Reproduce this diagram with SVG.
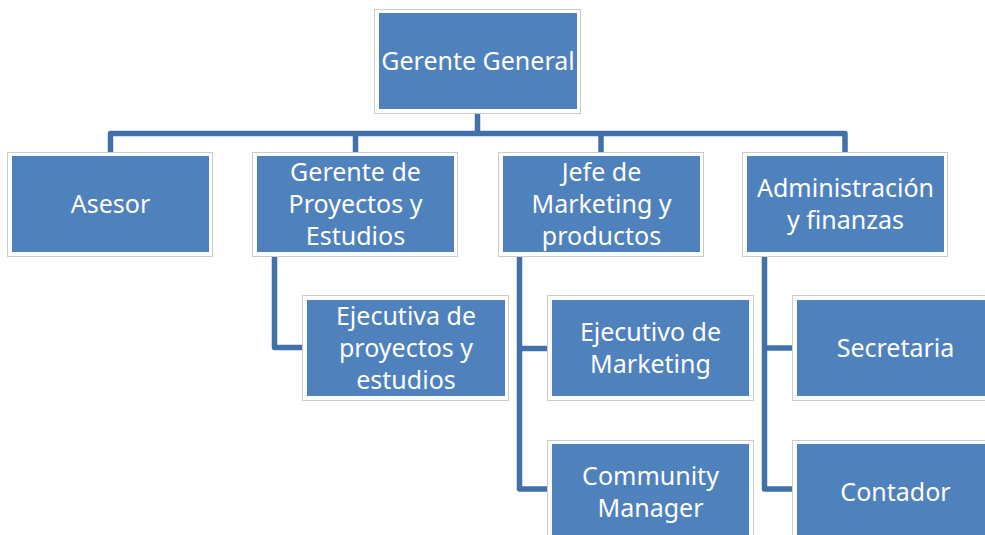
<svg xmlns="http://www.w3.org/2000/svg" width="985" height="535" viewBox="0 0 985 535">
<style>
.frame{fill:#FFFFFF;stroke:#CBCBCB;stroke-width:1}
.box{fill:#4F81BD}
.lbl{font-family:"Noto Sans","Open Sans",sans-serif;font-size:25px;fill:#FFFFFF;text-anchor:middle}
.conn{fill:none;stroke:#4270A8;stroke-width:5.5;stroke-linejoin:round;stroke-linecap:butt}
</style>
<rect width="985" height="535" fill="#FFFFFF"/>
<g id="connectors">
<path class="conn" d="M477.5,114 V133.5"/>
<path class="conn" d="M110.5,152 V133.5 H845 V152"/>
<path class="conn" d="M355.5,133.5 V152"/>
<path class="conn" d="M601,133.5 V152"/>
<path class="conn" d="M274.5,257 V347.5 H302"/>
<path class="conn" d="M519.5,257 V489 H547"/>
<path class="conn" d="M519.5,348.5 H547"/>
<path class="conn" d="M764.5,257 V489 H792"/>
<path class="conn" d="M764.5,348 H792"/>
</g>
<g id="gerente-general">
<rect class="frame" x="374.5" y="9.5" width="206" height="104"/>
<rect class="box" x="379" y="13" width="198" height="96"/>
<text class="lbl" x="478" y="70">Gerente General</text>
</g>
<g id="asesor">
<rect class="frame" x="7.5" y="152.5" width="205" height="104"/>
<rect class="box" x="12" y="156" width="197" height="96"/>
<text class="lbl" x="110.5" y="213">Asesor</text>
</g>
<g id="gerente-proyectos">
<rect class="frame" x="252.5" y="152.5" width="205" height="104"/>
<rect class="box" x="257" y="156" width="197" height="96"/>
<text class="lbl" x="355.5" y="181">Gerente de</text>
<text class="lbl" x="355.5" y="213">Proyectos y</text>
<text class="lbl" x="355.5" y="245">Estudios</text>
</g>
<g id="jefe-marketing">
<rect class="frame" x="498.5" y="152.5" width="205" height="104"/>
<rect class="box" x="503" y="156" width="197" height="96"/>
<text class="lbl" x="601.5" y="181">Jefe de</text>
<text class="lbl" x="601.5" y="213">Marketing y</text>
<text class="lbl" x="601.5" y="245">productos</text>
</g>
<g id="administracion">
<rect class="frame" x="742.5" y="152.5" width="205" height="104"/>
<rect class="box" x="747" y="156" width="197" height="96"/>
<text class="lbl" x="845.5" y="197">Administración</text>
<text class="lbl" x="845.5" y="229">y finanzas</text>
</g>
<g id="ejecutiva-proyectos">
<rect class="frame" x="302.5" y="295.5" width="206" height="105"/>
<rect class="box" x="307" y="300" width="198" height="96"/>
<text class="lbl" x="406" y="325">Ejecutiva de</text>
<text class="lbl" x="406" y="357">proyectos y</text>
<text class="lbl" x="406" y="389">estudios</text>
</g>
<g id="ejecutivo-marketing">
<rect class="frame" x="547.5" y="295.5" width="206" height="105"/>
<rect class="box" x="552" y="300" width="197" height="96"/>
<text class="lbl" x="650.5" y="341">Ejecutivo de</text>
<text class="lbl" x="650.5" y="373">Marketing</text>
</g>
<g id="community-manager">
<rect class="frame" x="547.5" y="440.5" width="206" height="105"/>
<rect class="box" x="552" y="444" width="197" height="97"/>
<text class="lbl" x="650.5" y="485">Community</text>
<text class="lbl" x="650.5" y="517">Manager</text>
</g>
<g id="secretaria">
<rect class="frame" x="792.5" y="295.5" width="206" height="105"/>
<rect class="box" x="797" y="300" width="197" height="96"/>
<text class="lbl" x="895.5" y="357">Secretaria</text>
</g>
<g id="contador">
<rect class="frame" x="792.5" y="440.5" width="206" height="105"/>
<rect class="box" x="797" y="444" width="197" height="97"/>
<text class="lbl" x="895.5" y="501">Contador</text>
</g>
</svg>
